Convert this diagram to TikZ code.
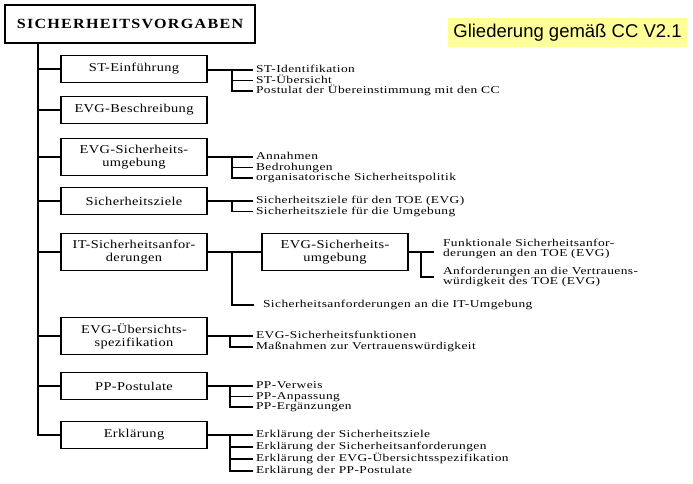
\documentclass[tikz,border=0pt]{standalone}
\usepackage{fontspec}
\usepackage{tikz}
\setmainfont{Liberation Serif}
\newfontfamily\boxfont{Liberation Serif}[FakeStretch=1.2, LetterSpace=3]
\newfontfamily\itemfont{Liberation Serif}[FakeStretch=1.28, LetterSpace=4]
\newfontfamily\titlefont{Liberation Serif}[FakeStretch=1.15, LetterSpace=9]
\newfontfamily\labelfont{Liberation Sans}
\definecolor{labelyellow}{HTML}{FFFF99}

\begin{document}
\begin{tikzpicture}[x = 1pt, y = -1pt,
    mainbox/.style = {draw, line width = 1.8pt, minimum width = 146pt, minimum height = 27pt,
                      inner sep = 0pt, align = center, font = \boxfont\fontsize{12}{13}\selectfont},
    tallbox/.style = {mainbox, minimum height = 37pt},
    twoline/.style = {anchor = west, inner sep = 0pt, align = left,
                      font = \itemfont\fontsize{10.5}{10}\selectfont},
    item/.style = {twoline, text height = 7pt, text depth = 2pt},
    trunk/.style = {line width = 1.8pt},
    branch/.style = {line width = 1.5pt}]
          \useasboundingbox (0, 0) rectangle (693, 483);
          % Kopf
          \node[draw, line width = 2.2pt, minimum width = 250pt, minimum height = 38pt, inner sep = 0pt,
                font = \titlefont\bfseries\fontsize{14}{16}\selectfont] (sv) at (130, 24) {SICHERHEITSVORGABEN};
          \node[fill = labelyellow, minimum width = 239pt, minimum height = 29pt, inner sep = 0pt,
                font = \labelfont\fontsize{18.5}{20}\selectfont] (gl) at (567.5, 32.5) {Gliederung gemäß CC V2.1};
          % Kapitel
          \node[mainbox] (einf) at (134, 69) {ST-Einführung};
          \node[mainbox] (beschr) at (134, 110) {EVG-Beschreibung};
          \node[tallbox] (umg) at (134, 157) {EVG-Sicherheits-\\umgebung};
          \node[mainbox] (ziele) at (134, 201) {Sicherheitsziele};
          \node[tallbox] (anf) at (134, 252) {IT-Sicherheitsanfor-\\derungen};
          \node[tallbox] (tss) at (134, 336) {EVG-Übersichts-\\spezifikation};
          \node[mainbox] (pp) at (134, 386) {PP-Postulate};
          \node[mainbox] (erkl) at (134, 435) {Erklärung};
          \node[tallbox] (umgb) at (335, 252) {EVG-Sicherheits-\\umgebung};
          % Stamm
          \coordinate (t) at (38, 0);
          \draw[trunk] (sv.south -| t) -- (erkl.west -| t) -- (erkl.west);
          \foreach \b in {einf, beschr, umg, ziele, anf, tss, pp}
            \draw[branch] (\b.west -| t) -- (\b.west);
          % ST-Einführung
          \node[item] (einf1) at ([shift = {(48, 1)}]einf.east) {ST-Identifikation};
          \node[item] (einf2) at ([shift = {(0, 10.5)}]einf1.west) {ST-Übersicht};
          \node[item] (einf3) at ([shift = {(0, 10.5)}]einf2.west) {Postulat der Übereinstimmung mit den CC};
          \draw[branch] (einf.east |- einf1.west) -- ([xshift = -3pt]einf1.west);
          \draw[branch] ([xshift = 24pt]einf.east |- einf1.west) |- ([xshift = -3pt]einf3.west);
          \draw[branch] ([xshift = 24pt]einf.east |- einf2.west) -- ([xshift = -3pt]einf2.west);
          % EVG-Sicherheitsumgebung
          \node[item] (umg1) at ([xshift = 48pt]umg.east) {Annahmen};
          \node[item] (umg2) at ([shift = {(0, 10.5)}]umg1.west) {Bedrohungen};
          \node[item] (umg3) at ([shift = {(0, 10.5)}]umg2.west) {organisatorische Sicherheitspolitik};
          \draw[branch] (umg.east) -- ([xshift = -3pt]umg1.west);
          \draw[branch] ([xshift = 24pt]umg.east) |- ([xshift = -3pt]umg3.west);
          \draw[branch] ([xshift = 24pt]umg.east |- umg2.west) -- ([xshift = -3pt]umg2.west);
          % Sicherheitsziele
          \node[item] (ziele1) at ([xshift = 48pt]ziele.east) {Sicherheitsziele für den TOE (EVG)};
          \node[item] (ziele2) at ([shift = {(0, 10.5)}]ziele1.west) {Sicherheitsziele für die Umgebung};
          \draw[branch] (ziele.east) -- ([xshift = -3pt]ziele1.west);
          \draw[branch] ([xshift = 24pt]ziele.east) |- ([xshift = -3pt]ziele2.west);
          % IT-Sicherheitsanforderungen
          \node[item] (anf1) at ([shift = {(55, 53)}]anf.east) {Sicherheitsanforderungen an die IT-Umgebung};
          \draw[branch] (anf.east) -- (umgb.west);
          \draw[branch] ([xshift = 24pt]anf.east) |- ([xshift = -9pt]anf1.west);
          \node[twoline] (umgb1) at ([shift = {(34, -3)}]umgb.east) {Funktionale Sicherheitsanfor-\\derungen an den TOE (EVG)};
          \node[twoline] (umgb2) at ([shift = {(34, 25)}]umgb.east) {Anforderungen an die Vertrauens-\\würdigkeit des TOE (EVG)};
          \draw[branch] (umgb.east) -- ([xshift = -9pt]umgb1.west |- umgb.east);
          \draw[branch] ([xshift = 12pt]umgb.east) |- ([xshift = -9pt]umgb2.west);
          % EVG-Übersichtsspezifikation
          \node[item] (tss1) at ([xshift = 48pt]tss.east) {EVG-Sicherheitsfunktionen};
          \node[item] (tss2) at ([shift = {(0, 11)}]tss1.west) {Maßnahmen zur Vertrauenswürdigkeit};
          \draw[branch] (tss.east) -- ([xshift = -3pt]tss1.west);
          \draw[branch] ([xshift = 22pt]tss.east) |- ([xshift = -3pt]tss2.west);
          % PP-Postulate
          \node[item] (pp1) at ([xshift = 48pt]pp.east) {PP-Verweis};
          \node[item] (pp2) at ([shift = {(0, 10.5)}]pp1.west) {PP-Anpassung};
          \node[item] (pp3) at ([shift = {(0, 10.5)}]pp2.west) {PP-Ergänzungen};
          \draw[branch] (pp.east) -- ([xshift = -3pt]pp1.west);
          \draw[branch] ([xshift = 22pt]pp.east) |- ([xshift = -3pt]pp3.west);
          \draw[branch] ([xshift = 22pt]pp.east |- pp2.west) -- ([xshift = -3pt]pp2.west);
          % Erklärung
          \node[item] (erkl1) at ([xshift = 48pt]erkl.east) {Erklärung der Sicherheitsziele};
          \node[item] (erkl2) at ([shift = {(0, 12)}]erkl1.west) {Erklärung der Sicherheitsanforderungen};
          \node[item] (erkl3) at ([shift = {(0, 12)}]erkl2.west) {Erklärung der EVG-Übersichtsspezifikation};
          \node[item] (erkl4) at ([shift = {(0, 12)}]erkl3.west) {Erklärung der PP-Postulate};
          \draw[branch] (erkl.east) -- ([xshift = -3pt]erkl1.west);
          \draw[branch] ([xshift = 22pt]erkl.east) |- ([xshift = -3pt]erkl4.west);
          \draw[branch] ([xshift = 22pt]erkl.east |- erkl2.west) -- ([xshift = -3pt]erkl2.west);
          \draw[branch] ([xshift = 22pt]erkl.east |- erkl3.west) -- ([xshift = -3pt]erkl3.west);
        \end{tikzpicture}
\end{document}
